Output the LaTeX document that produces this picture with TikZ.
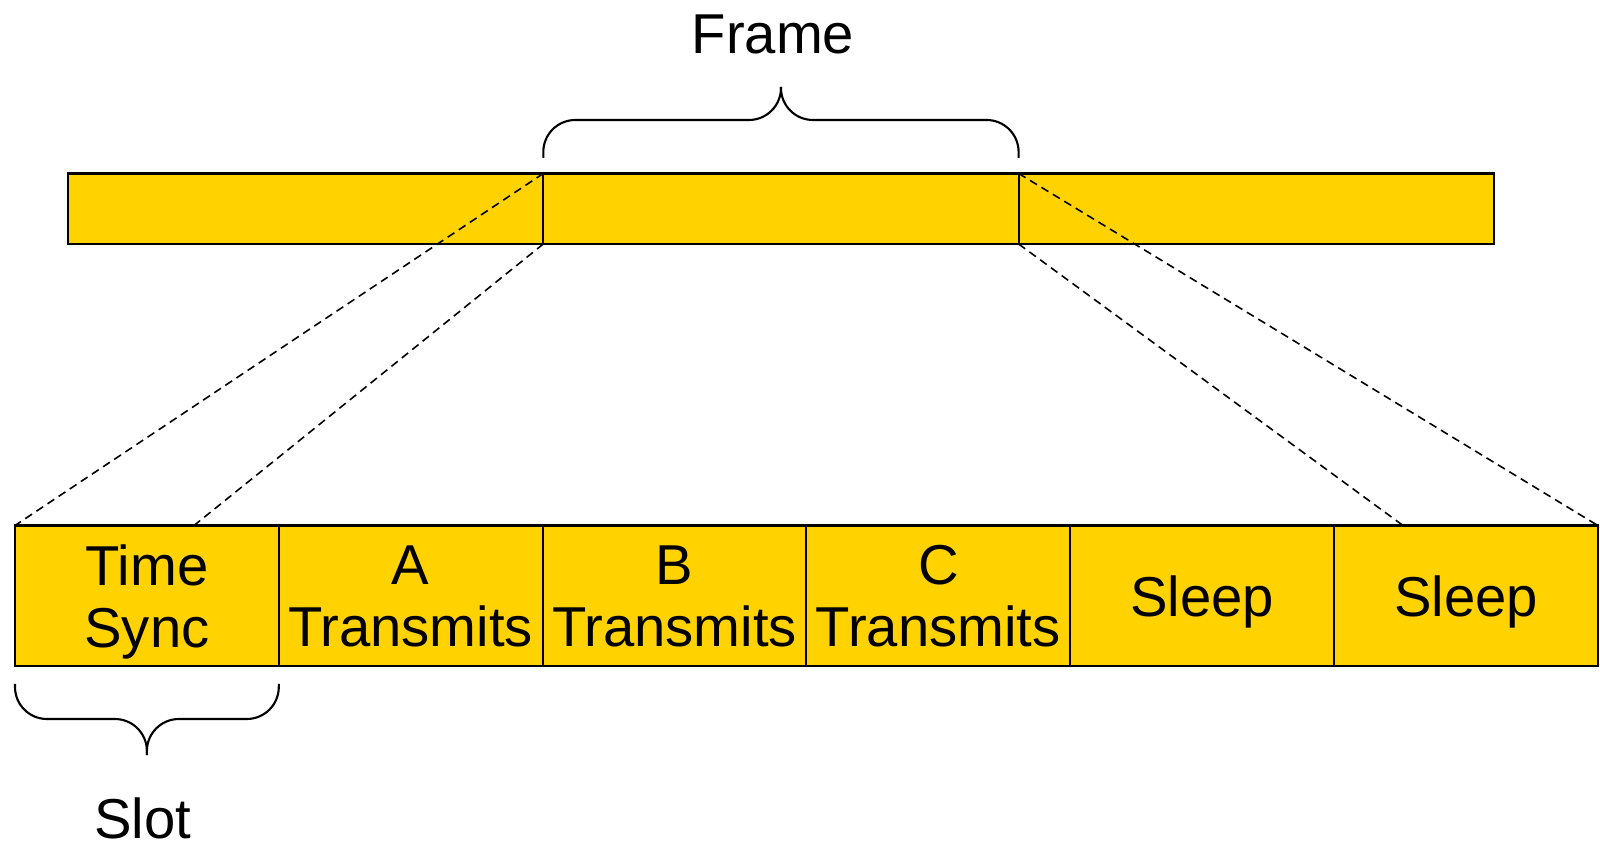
\documentclass[tikz,border=0pt]{standalone}
\usepackage{fontspec}
\setmainfont{Liberation Sans}
\usetikzlibrary{positioning}

\definecolor{slotyellow}{RGB}{255,210,0}

\tikzset{
	barbox/.style = {draw, fill=slotyellow, line width=0.6pt, outer sep=0pt,
		inner sep=0pt, minimum width=4.753cm, minimum height=0.705cm},
	slotbox/.style = {draw, fill=slotyellow, line width=0.6pt, outer sep=0pt,
		inner sep=0pt, minimum width=2.638cm, minimum height=1.405cm,
		align=center, text depth=-1pt, font=\fontsize{16}{17.6}\selectfont},
	zoomline/.style = {line width=0.45pt, dash pattern=on 2.3pt off 1.5pt},
	bracepen/.style = {line width=0.6pt, rounded corners=0.32cm},
	label/.style = {inner sep=0pt, font=\fontsize{16}{17.6}\selectfont}
}

\begin{document}
\begin{tikzpicture}
	\useasboundingbox (0,0) rectangle (16,-8.41);
	
	% the three frames on top
	\node[barbox] (seg1) at (3.0565,-2.0875) {};
	\node[barbox, right=0pt of seg1] (seg2) {};
	\node[barbox, right=0pt of seg2] (seg3) {};
	
	% one frame split into slots
	\node[slotbox] (sync) at (1.469,-5.9575) {Time\\Sync};
	\node[slotbox, right=0pt of sync] (txa) {A\\Transmits};
	\node[slotbox, right=0pt of txa] (txb) {B\\Transmits};
	\node[slotbox, right=0pt of txb] (txc) {C\\Transmits};
	\node[slotbox, right=0pt of txc] (sleepa) {Sleep};
	\node[slotbox, right=0pt of sleepa] (sleepb) {Sleep};
	
	\coordinate (zl) at ([xshift=1.79cm]sync.north west);
	\coordinate (zr) at ([xshift=0.69cm]sleepb.north west);
	
	\draw[zoomline] (seg2.north west) -- (sync.north west);
	\draw[zoomline] (seg2.south west) -- (zl);
	\draw[zoomline] (seg2.north east) -- (sleepb.north east);
	\draw[zoomline] (seg2.south east) -- (zr);
	
	% braces, one half at a time
	\coordinate (ftip) at ([yshift=0.865cm]seg2.north);
	\draw[bracepen] ([yshift=0.155cm]seg2.north west) -- ++(0,0.38) -| (ftip);
	\draw[bracepen] ([yshift=0.155cm]seg2.north east) -- ++(0,0.38) -| (ftip);
	\node[label] (frame) at ([xshift=-0.08cm,yshift=0.53cm]ftip) {Frame};
	
	\coordinate (stip) at ([yshift=-0.89cm]sync.south);
	\draw[bracepen] ([yshift=-0.18cm]sync.south west) -- ++(0,-0.35) -| (stip);
	\draw[bracepen] ([yshift=-0.18cm]sync.south east) -- ++(0,-0.35) -| (stip);
	\node[label] (slot) at ([xshift=-0.04cm,yshift=-0.63cm]stip) {Slot};
	
\end{tikzpicture}
\end{document}
